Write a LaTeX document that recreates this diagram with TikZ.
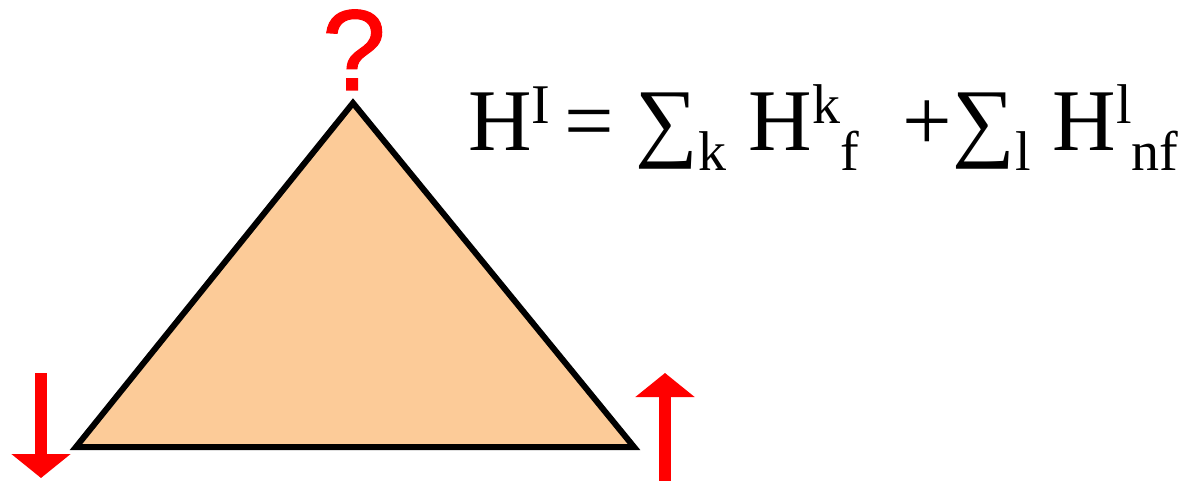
\documentclass[tikz,border=0pt]{standalone}
\usepackage{fontspec}
\setmainfont{Liberation Serif}
\newfontfamily\qfont[FakeBold=1]{Liberation Sans}
\usepackage{tikz}
\usetikzlibrary{arrows.meta}
\definecolor{peach}{HTML}{FCCB98}
\definecolor{spinred}{HTML}{FF0000}
\tikzset{
  tri/.style={draw=black,fill=peach,line width=6pt,line join=miter},
  spinarr/.style={-{Triangle[length=24pt,width=58pt]},line width=12pt,draw=spinred,fill=spinred},
  eqn/.style={inner sep=0pt,anchor=base west,font=\fontsize{88}{100}\selectfont},
  qmark/.style={inner sep=0pt,anchor=base,text=spinred,font=\qfont\fontsize{115}{115}\selectfont}
}
\newcommand{\hsup}[1]{\raisebox{27pt}{\fontsize{56}{60}\selectfont #1}}
\newcommand{\hsub}[1]{\raisebox{-20pt}{\fontsize{56}{60}\selectfont #1}}

\begin{document}
\begin{tikzpicture}[x=1pt,y=-1pt]
  \useasboundingbox (0,0) rectangle (1181,481);
  % frustrated triangle
  \coordinate (bl) at (76,447);
  \coordinate (br) at (634,447);
  \coordinate (apex) at (353,103);
  \draw[tri] (bl) -- (br) -- (apex) -- cycle;
  \node[qmark] (q) at (354,90) {?};
  % spins
  \coordinate (s1a) at (41,373);
  \coordinate (s1b) at (41,478);
  \coordinate (s2a) at (665,481);
  \coordinate (s2b) at (665,373);
  \draw[spinarr] (s1a) -- (s1b);
  \draw[spinarr] (s2a) -- (s2b);
  % hamiltonian
  \node[eqn] (ham) at (468,151) {H\hsup{I\ }= ∑\hsub{k}\ H\hsup{k}\hsub{f}\ \ +∑\hsub{l}\ H\hsup{l}\hsub{nf}};
\end{tikzpicture}
\end{document}
